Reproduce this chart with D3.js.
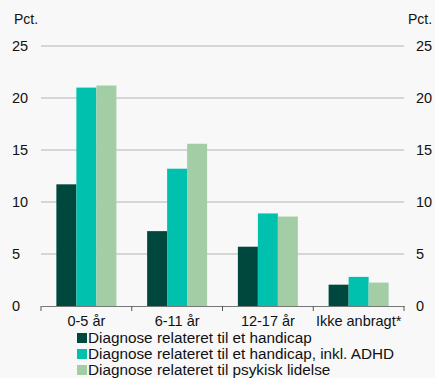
<!DOCTYPE html>
<html>
<head>
<meta charset="utf-8">
<script src="https://cdn.jsdelivr.net/npm/d3@7"></script>
<style>
  body { margin: 0; background: #f7f8f7; }
  svg text { font-family: "Liberation Sans", Arial, Helvetica, sans-serif; fill: #111; }
</style>
</head>
<body>
<div id="chart"></div>
<script>
// data
const categories = ["0-5 år", "6-11 år", "12-17 år", "Ikke anbragt*"];
const series = [
    "Diagnose relateret til et handicap",
    "Diagnose relateret til et handicap, inkl. ADHD",
    "Diagnose relateret til psykisk lidelse"
];
const handicap = [11.7, 7.2, 5.7, 2.05];
const handicapAdhd = [21.0, 13.2, 8.9, 2.8];
const psykisk = [21.2, 15.6, 8.6, 2.25];
const yTicks = [0, 5, 10, 15, 20, 25];

const colors = ["#00483e", "#00c1ae", "#a3cda5"];
const values = [handicap, handicapAdhd, psykisk];

const W = 435, H = 378;
const margin = { top: 46, right: 31, bottom: 72, left: 41 };
const width = W - margin.left - margin.right;
const height = H - margin.top - margin.bottom;

const svg = d3.select("#chart").append("svg")
    .attr("width", W).attr("height", H);

svg.append("rect").attr("width", W).attr("height", H).attr("fill", "#f7f8f7");

const g = svg.append("g")
    .attr("transform", `translate(${margin.left}, ${margin.top})`);

const x = d3.scaleBand().domain(categories).range([0, width]).padding(0);
const xs = d3.scaleBand().domain(series).range([0, 60]);
const y = d3.scaleLinear().domain([0, 25]).range([height, 0]);

// gridlines
g.selectAll(".grid")
    .data(yTicks.filter(d => d > 0))
    .enter().append("line")
    .attr("x1", 0).attr("x2", width)
    .attr("y1", d => y(d)).attr("y2", d => y(d))
    .attr("stroke", "#b4b4b4").attr("stroke-width", 1);

// tick labels left & right
g.selectAll(".yl")
    .data(yTicks).enter().append("text")
    .attr("x", -29).attr("y", d => y(d)).attr("dy", "0.36em")
    .style("font-size", "14.5px")
    .text(d => d);
g.selectAll(".yr")
    .data(yTicks).enter().append("text")
    .attr("x", width + 12).attr("y", d => y(d)).attr("dy", "0.36em")
    .style("font-size", "14.5px")
    .text(d => d);

svg.append("text").attr("x", 14).attr("y", 24)
    .style("font-size", "14px").text("Pct.");
svg.append("text").attr("x", 408).attr("y", 24)
    .style("font-size", "14px").text("Pct.");

// bars
series.forEach((s, i) => {
    g.selectAll(".bar" + i)
        .data(categories).enter().append("rect")
        .attr("x", c => x(c) + (x.bandwidth() - 60) / 2 + xs(s))
        .attr("y", (c, j) => y(values[i][j]))
        .attr("width", xs.bandwidth())
        .attr("height", (c, j) => y(0) - y(values[i][j]))
        .attr("fill", colors[i]);
});

// x axis
const xAxis = g.append("g")
    .attr("transform", `translate(0, ${height})`)
    .call(d3.axisBottom(x).tickSize(0).tickPadding(10));
xAxis.select(".domain").attr("stroke", "#777");
xAxis.selectAll("text")
    .attr("font-family", null).attr("font-size", null)
    .style("font-size", "14.5px");
xAxis.selectAll(".sep")
    .data(d3.range(categories.length + 1)).enter().append("line")
    .attr("x1", i => i * x.bandwidth()).attr("x2", i => i * x.bandwidth())
    .attr("y1", 0).attr("y2", 5)
    .attr("stroke", "#555");

// legend
const legend = svg.append("g").attr("transform", "translate(77, 333)");
series.forEach((s, i) => {
    const row = legend.append("g").attr("transform", `translate(0, ${i * 16})`);
    row.append("rect").attr("width", 10).attr("height", 10).attr("fill", colors[i]);
    row.append("text").attr("x", 11).attr("y", 10)
        .style("font-size", "15.3px").text(s);
});
</script>
</body>
</html>
